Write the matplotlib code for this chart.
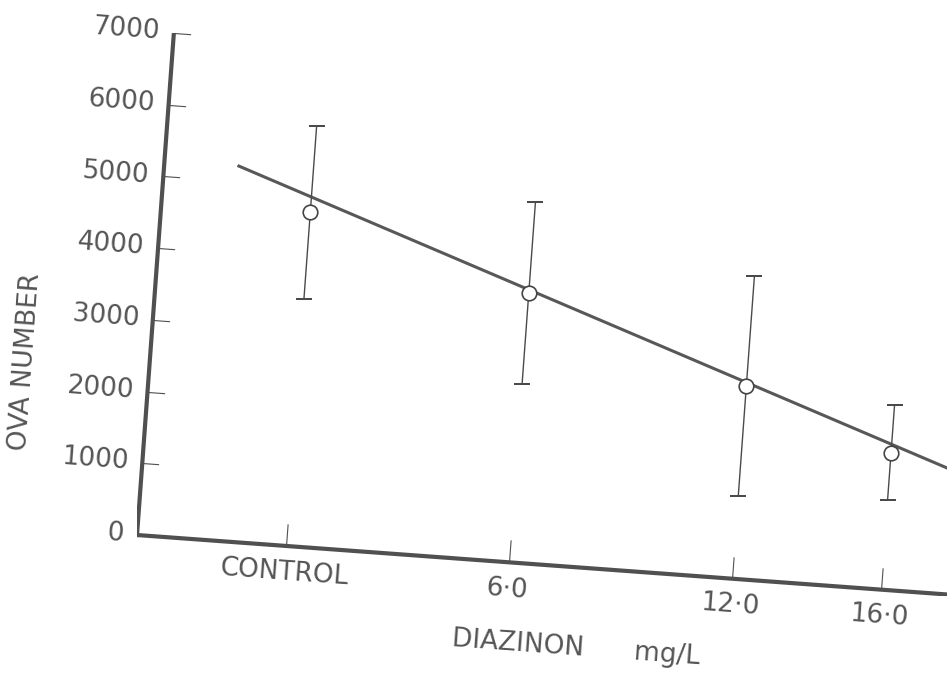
import numpy as np
import matplotlib
matplotlib.use("Agg")
import matplotlib.pyplot as plt
from matplotlib.transforms import Affine2D
from mpl_toolkits.axisartist import floating_axes
from mpl_toolkits.axisartist.grid_finder import FixedLocator, DictFormatter

# ---- data ----
dose_pos = [0, 6, 12, 16]
dose_labels = ["CONTROL", "6·0", "12·0", "16·0"]
ova_mean = [4650, 3760, 2690, 1910]
ova_err = [1210, 1270, 1530, 660]
y_ticks = [0, 1000, 2000, 3000, 4000, 5000, 6000, 7000]
y_tick_labels = ["0", "1000", "2000", "3000", "4000", "5000", "6000", "7000"]
fit_intercept = 4866.0
fit_slope = -177.5
fit_x_range = [-2.0, 18.5]

# ---- geometry of the (slightly rotated) scan ----
W, H = 947, 679
ANGLE = 4.2            # clockwise tilt of the scanned page, degrees
SX = 37.3              # pixels per mg/L
SY = 71.9 / 1000.0     # pixels per ova
XMIN, XMAX = -4.0, 18.5
YMIN, YMAX = 0, 7000
ORIGIN_PX = (137, 535)  # pixel of the axes corner (y down from top)

GRAY = "#505050"
TXT = "#555555"

fig = plt.figure(figsize=(W / 100, H / 100), dpi=100)
fig.patch.set_facecolor("white")

tr = Affine2D().scale(SX, SY).rotate_deg(-ANGLE)

corners = tr.transform(np.array([[XMIN, YMIN], [XMAX, YMIN], [XMIN, YMAX], [XMAX, YMAX]]))
bx0, by0 = corners.min(axis=0)
bx1, by1 = corners.max(axis=0)
ox, oy = tr.transform([[XMIN, YMIN]])[0]
left_px = ORIGIN_PX[0] + (bx0 - ox)
bottom_px = ORIGIN_PX[1] + (oy - by0)
rect = [left_px / W, 1 - bottom_px / H, (bx1 - bx0) / W, (by1 - by0) / H]

grid_helper = floating_axes.GridHelperCurveLinear(
    tr,
    extremes=(XMIN, XMAX, YMIN, YMAX),
    grid_locator1=FixedLocator(dose_pos),
    tick_formatter1=DictFormatter(dict(zip(dose_pos, dose_labels))),
    grid_locator2=FixedLocator(y_ticks),
    tick_formatter2=DictFormatter(dict(zip(y_ticks, y_tick_labels))),
)

ax = fig.add_axes(rect, axes_class=floating_axes.FloatingAxes, grid_helper=grid_helper)
ax.set_xlim(bx0, bx1)
ax.set_ylim(by0, by1)
ax.axis["top"].set_visible(False)
ax.axis["right"].set_visible(False)

for name, tsize in (("left", 12), ("bottom", 16)):
    a = ax.axis[name]
    a.line.set_linewidth(3.0)
    a.line.set_color(GRAY)
    a.major_ticks.set_ticksize(tsize)
    a.major_ticks.set_tick_out(False)
    a.major_ticks.set_linewidth(1.2)
    a.major_ticks.set_color(GRAY)
    a.major_ticklabels.set_fontsize(19)
    a.major_ticklabels.set_color(TXT)
    a.minor_ticks.set_visible(False)

ax.axis["left"].major_ticklabels.set_pad(10)
ax.axis["bottom"].major_ticklabels.set_pad(10)

aux = ax.get_aux_axes(tr)
aux.patch = ax.patch
ax.patch.zorder = 0.9

fx = np.array(fit_x_range)
aux.plot(fx, fit_intercept + fit_slope * fx, color="#585858", lw=2.2, zorder=2)
aux.errorbar(dose_pos, ova_mean, yerr=ova_err, fmt="o", ms=10.5,
             mfc="white", mec="#444444", mew=1.2,
             ecolor="#4a4a4a", elinewidth=1.0, capsize=6, capthick=1.1, zorder=3)

fig.text(26 / W, 1 - 362 / H, "OVA NUMBER", rotation=90 - ANGLE, fontsize=19,
         color=TXT, ha="center", va="center", rotation_mode="anchor")
fig.text(576 / W, 1 - 648 / H, "DIAZINON      mg/L", rotation=-ANGLE, fontsize=19,
         color=TXT, ha="center", va="center", rotation_mode="anchor")

fig.savefig("out.png", dpi=100)
